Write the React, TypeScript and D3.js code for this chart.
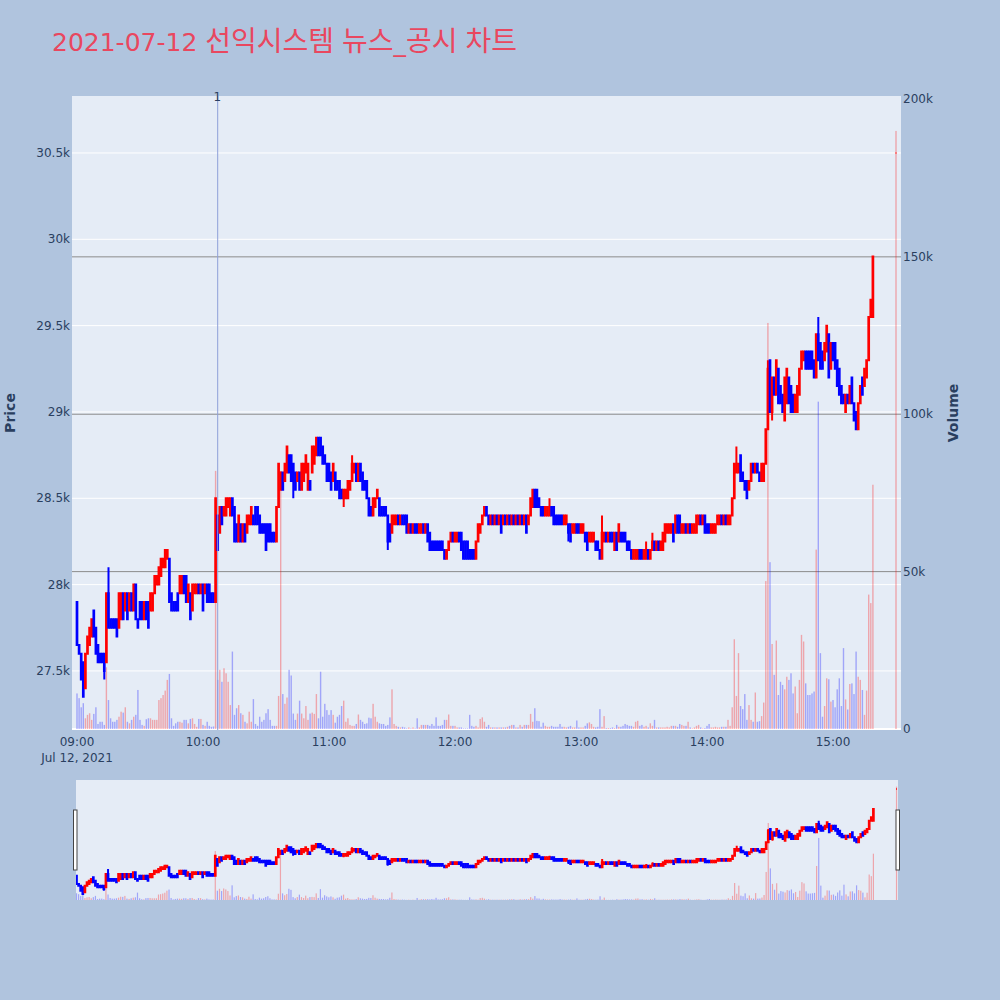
import React from 'react';
import * as d3 from 'd3';

// ---------------- data ----------------
const TITLE = '2021-07-12 선익시스템 뉴스_공시 차트';
const SESSION_START = '2021-07-12T09:00:00';

// one-minute candles from 09:00
const opens = [
  27900,27650,27600,27550,27400,27600,27650,27700,27850,27750,
  27650,27600,27600,27600,27550,27950,27800,27800,27800,27800,
  27750,27800,27950,27850,27950,27850,27950,27850,28000,27800,
  27900,27900,27800,27900,27900,27850,27850,27950,28000,28000,
  28050,28100,28100,28150,28150,27950,27900,27900,27950,27950,
  27950,28050,28050,27900,27950,27850,27950,27950,28000,27950,
  28000,27950,28000,28000,27950,27950,27900,28400,28300,28450,
  28400,28400,28450,28400,28500,28450,28350,28250,28350,28250,
  28350,28300,28350,28350,28400,28450,28450,28400,28350,28350,
  28350,28350,28350,28300,28300,28250,28450,28550,28650,28600,
  28650,28750,28750,28700,28650,28600,28650,28550,28600,28650,
  28550,28600,28650,28700,28750,28850,28850,28800,28750,28700,
  28700,28650,28600,28650,28600,28600,28550,28500,28500,28500,
  28550,28600,28650,28700,28600,28700,28650,28600,28600,28500,
  28450,28400,28450,28500,28500,28450,28450,28450,28400,28350,
  28300,28350,28350,28400,28350,28400,28400,28400,28300,28350,
  28300,28350,28350,28300,28300,28350,28300,28350,28300,28250,
  28250,28250,28250,28250,28250,28200,28150,28200,28250,28300,
  28250,28250,28300,28300,28250,28250,28250,28200,28200,28200,
  28150,28250,28300,28350,28400,28450,28400,28350,28400,28350,
  28400,28350,28400,28350,28400,28350,28400,28350,28400,28350,
  28400,28350,28400,28350,28400,28350,28400,28450,28550,28550,
  28500,28450,28450,28400,28400,28400,28450,28450,28400,28400,
  28400,28400,28350,28350,28350,28350,28300,28300,28350,28350,
  28300,28300,28300,28300,28250,28250,28250,28250,28250,28200,
  28150,28250,28300,28250,28300,28300,28200,28300,28250,28300,
  28300,28300,28250,28250,28200,28150,28150,28150,28200,28200,
  28150,28150,28200,28150,28200,28250,28200,28250,28200,28200,
  28250,28300,28300,28300,28350,28300,28400,28400,28300,28300,
  28350,28300,28350,28300,28300,28300,28350,28400,28350,28400,
  28350,28350,28300,28300,28300,28350,28350,28400,28350,28400,
  28350,28350,28400,28500,28650,28650,28750,28650,28600,28600,
  28550,28600,28700,28650,28700,28650,28600,28600,28700,28900,
  29300,29000,29200,29100,29250,29150,29100,28950,29050,29200,
  29150,29100,29000,29000,29100,29250,29300,29350,29350,29350,
  29350,29300,29200,29450,29400,29350,29300,29350,29450,29250,
  29400,29400,29300,29250,29150,29100,29000,29100,29050,29200,
  29050,29000,28900,29050,29200,29150,29200,29300,29550,29550,
];
const closes = [
  27650,27600,27450,27350,27600,27700,27750,27800,27700,27600,
  27550,27550,27550,27500,27950,27750,27750,27750,27750,27700,
  27950,27950,27800,27950,27800,27950,27850,28000,27800,27750,
  27800,27800,27900,27800,27750,27950,27950,28050,28050,28100,
  28150,28150,28200,28200,27900,27850,27850,27850,27850,28050,
  28050,27950,27900,28000,27800,28000,28000,28000,27950,28000,
  27850,28000,27900,27900,27900,27900,28500,28200,28450,28350,
  28450,28500,28500,28500,28400,28250,28250,28400,28250,28350,
  28250,28400,28400,28450,28350,28350,28350,28300,28300,28300,
  28200,28250,28250,28250,28250,28450,28700,28650,28550,28700,
  28800,28650,28600,28600,28550,28650,28550,28700,28700,28750,
  28700,28550,28800,28800,28850,28750,28750,28700,28700,28600,
  28600,28550,28700,28550,28550,28500,28500,28550,28550,28600,
  28600,28700,28700,28600,28700,28600,28550,28550,28500,28400,
  28400,28500,28500,28550,28400,28400,28400,28400,28250,28250,
  28400,28400,28400,28350,28400,28350,28350,28300,28350,28300,
  28350,28300,28300,28350,28350,28300,28350,28250,28200,28200,
  28200,28200,28200,28200,28200,28150,28200,28250,28300,28250,
  28300,28300,28250,28200,28150,28150,28150,28150,28150,28150,
  28250,28350,28350,28400,28450,28400,28350,28400,28350,28400,
  28350,28400,28300,28400,28350,28400,28350,28400,28350,28400,
  28350,28400,28350,28400,28300,28400,28500,28550,28450,28450,
  28450,28400,28400,28450,28450,28450,28400,28350,28350,28350,
  28350,28350,28400,28400,28300,28250,28350,28350,28300,28300,
  28350,28350,28250,28200,28300,28300,28300,28200,28200,28150,
  28300,28300,28250,28300,28250,28250,28300,28200,28350,28250,
  28250,28250,28200,28200,28150,28200,28200,28200,28150,28150,
  28200,28200,28150,28200,28250,28200,28250,28200,28250,28300,
  28350,28350,28350,28350,28250,28400,28300,28300,28350,28350,
  28300,28350,28300,28350,28350,28400,28400,28350,28400,28300,
  28300,28300,28350,28350,28350,28400,28400,28350,28400,28350,
  28400,28400,28500,28700,28700,28700,28600,28600,28550,28500,
  28600,28700,28650,28700,28650,28600,28700,28700,28900,29250,
  29000,29200,29100,29300,29050,29050,29000,29200,29250,29050,
  29000,29000,29100,29150,29250,29350,29350,29250,29250,29250,
  29250,29200,29450,29300,29250,29250,29400,29500,29200,29400,
  29300,29250,29150,29100,29050,29050,29100,29050,29150,29050,
  28950,28900,29050,29150,29100,29250,29300,29550,29650,29900,
];
const volumes = [
  11300,9800,6900,8200,3400,4500,5000,2900,4800,6900,
  1600,2300,2300,1300,19600,9200,3400,2300,2300,2900,
  3900,5500,5200,6900,2300,1800,2900,3900,4500,12400,
  2900,1300,1000,3100,3400,3400,2900,2900,2900,9200,
  9800,10800,12200,15600,17500,3400,1000,1800,2300,2300,
  2000,2900,2900,1800,3200,3400,1600,700,3200,3200,
  1300,1000,2300,1000,700,800,82000,15600,18800,15000,
  19300,17700,15000,7600,24600,4500,6600,7600,5000,4500,
  2300,1800,5500,2300,9500,1600,1000,3900,2300,2900,
  5000,6300,2900,1000,1000,1000,10500,82000,11100,8000,
  10000,18800,17000,4900,2900,4900,9000,4900,3400,7300,
  2900,4900,5200,4800,11100,3400,18200,3900,8000,6000,
  4500,6000,4500,2000,3900,4500,7300,9000,2300,3400,
  1300,1000,1000,1600,4600,2900,2300,1600,1800,3600,
  3400,8000,3900,2300,1800,1600,1600,1000,1300,3700,
  12600,1600,1000,700,500,700,500,200,500,200,
  500,200,3400,500,1300,1300,1300,1300,1000,1600,
  1000,3700,1000,1000,1300,2900,2900,4600,1000,1000,
  1000,500,500,500,200,200,200,4500,1000,700,
  1000,500,3200,3700,2300,700,1300,500,500,500,
  500,500,500,500,500,700,1000,1300,1300,500,
  500,1300,700,1300,1300,1300,4800,2300,6600,2600,
  2500,700,2000,1000,700,700,1000,700,700,700,
  1600,700,700,500,700,1000,500,500,2700,500,
  500,500,1000,1800,2100,1600,700,500,700,6300,
  700,4100,300,300,300,500,300,1300,700,700,
  1000,1600,1300,1000,1000,700,2300,2600,1000,1300,
  700,1000,500,1800,1000,2900,500,500,500,500,
  500,700,500,1000,1000,1000,700,1600,1300,1000,
  1000,2300,500,200,500,1000,1300,500,200,300,
  1000,1600,500,500,700,500,500,700,700,700,
  2900,1000,6900,28500,10500,24100,7300,6300,11100,2900,
  7600,2900,2300,11600,2300,2500,4100,8400,47000,129000,
  53000,27000,17200,28100,10800,15000,14000,12600,16600,15600,
  17700,11300,13500,5000,15600,29900,27800,14500,10800,10800,
  11300,11900,57000,104000,24100,3900,7300,16100,15800,8700,
  9200,6900,12600,16100,7300,25700,9400,6200,14300,14500,
  11100,24600,16600,15600,12400,4500,12200,42700,40000,77600,
];
// wicks beyond the body: [minute index, price]
const wickHighs = [[8, 27850], [15, 28100], [131, 28750], [225, 28500], [250, 28400], [271, 28250], [274, 28300], [314, 28800], [329, 29300], [353, 29550]];
const wickLows = [[13, 27450], [103, 28500], [127, 28450], [148, 28200], [234, 28250], [299, 28300], [331, 28950]];
// closing auction print
const closingAuction = { time: '2021-07-12T15:30:00', open: 30500, close: 30500, volume: 190000 };
const newsEvents = [{ time: '2021-07-12T10:07:00', label: '1' }];

const priceTicks = [27500, 28000, 28500, 29000, 29500, 30000, 30500];
const volumeTicks = [0, 50000, 100000, 150000, 200000];
const timeTicks = ['09:00', '10:00', '11:00', '12:00', '13:00', '14:00', '15:00'];

// ---------------- layout ----------------
const W = 1000, H = 1000;
const P = { left: 72, right: 901, top: 96, bottom: 730 };
const S = { left: 76, right: 898, top: 780, bottom: 900 };
const INC = '#ff0000', DEC = '#0000ff';
const FONT = "'DejaVu Sans', Verdana, 'Noto Sans CJK KR', sans-serif";
const AXIS_TXT = '#2a3f5f';

const parse = d3.timeParse('%Y-%m-%dT%H:%M:%S');
const t0 = parse(SESSION_START) as Date;
const minute = 60000;

type Candle = { t: Date; o: number; c: number; h: number; l: number; v: number };
const candles: Candle[] = opens.map((o, i) => {
  const c = closes[i];
  let h = Math.max(o, c), l = Math.min(o, c);
  wickHighs.forEach(([k, p]) => { if (k === i) h = Math.max(h, p); });
  wickLows.forEach(([k, p]) => { if (k === i) l = Math.min(l, p); });
  return { t: d3.timeMinute.offset(t0, i), o, c, h, l, v: volumes[i] };
});
const auctionT = parse(closingAuction.time) as Date;
candles.push({ t: auctionT, o: closingAuction.open, c: closingAuction.close, h: closingAuction.close, l: closingAuction.close, v: closingAuction.volume });

const x = d3.scaleTime()
  .domain([new Date(t0.getTime() - 2.38 * minute), new Date(t0.getTime() + 392.38 * minute)])
  .range([P.left, P.right]);
const yP = d3.scaleLinear().domain([27158, 30830]).range([P.bottom, P.top]);
const yV = d3.scaleLinear().domain([0, 201100]).range([P.bottom - 1, P.top]);

const xs = d3.scaleTime()
  .domain([new Date(t0.getTime() - 0.24 * minute), new Date(t0.getTime() + 390.7 * minute)])
  .range([S.left, S.right]);
const ysP = d3.scaleLinear().domain([27170, 30770]).range([S.bottom, S.top]);
const ysV = d3.scaleLinear().domain([0, 201100]).range([S.bottom, S.top]);

const fmtK = d3.format('~s');
const fmtT = d3.timeFormat('%H:%M');
const parseHM = d3.timeParse('%Y-%m-%dT%H:%M');

function candlePath(d: Candle, xx: (t: Date) => number, yy: (p: number) => number, hw: number) {
  const cx = xx(d.t);
  const top = Math.max(d.o, d.c), bot = Math.min(d.o, d.c);
  return `M${cx - hw},${yy(top)}H${cx + hw}V${yy(bot)}H${cx - hw}Z` +
    `M${cx},${yy(d.h)}V${yy(top)}M${cx},${yy(d.l)}V${yy(bot)}`;
}
const isUp = (d: Candle) => d.c >= d.o;

function Series({ xx, yy, yv, bottom, barW }: { xx: any; yy: any; yv: any; bottom: number; barW: number }) {
  return (
    <g>
      {candles.map((d, i) => (
        <rect key={'v' + i} x={xx(d.t) - barW / 2} width={barW} y={yv(d.v)} height={Math.max(0, bottom - yv(d.v))}
          fill={isUp(d) ? INC : DEC} fillOpacity={0.3} />
      ))}
      {candles.map((d, i) => (
        <path key={'c' + i} d={candlePath(d, xx, yy, 0.35)} fill={isUp(d) ? INC : DEC}
          stroke={isUp(d) ? INC : DEC} strokeWidth={2} />
      ))}
    </g>
  );
}

// title runs: Latin in the axis font, Hangul in the CJK font
const titleRuns = TITLE.split(/([\uAC00-\uD7A3]+)/).filter(s => s.length > 0);

export default function App() {
  return (
    <svg width={W} height={H} style={{ position: 'absolute', left: 0, top: 0 }} fontFamily={FONT}>
      <defs>
        <clipPath id="plotClip"><rect x={P.left} y={P.top} width={P.right - P.left} height={P.bottom - P.top} /></clipPath>
        <clipPath id="sliderClip"><rect x={S.left} y={S.top} width={S.right - S.left} height={S.bottom - S.top} /></clipPath>
      </defs>
      <rect width={W} height={H} fill="#b0c4de" />
      <text x={52} y={51} fill="#e9475f">
        {titleRuns.map((r, i) => /[\uAC00-\uD7A3]/.test(r)
          ? <tspan key={i} fontSize={28} fontFamily="'Noto Sans CJK KR', sans-serif">{r}</tspan>
          : <tspan key={i} fontSize={25}>{r}</tspan>)}
      </text>

      {/* main plot */}
      <rect x={P.left} y={P.top} width={P.right - P.left} height={P.bottom - P.top} fill="#e5ecf6" />
      {priceTicks.map(p => (
        <line key={'gp' + p} x1={P.left} x2={P.right} y1={yP(p)} y2={yP(p)} stroke="#fff" strokeWidth={1} />
      ))}
      {volumeTicks.filter(v => v > 0 && v < 200000).map(v => (
        <line key={'gv' + v} x1={P.left} x2={P.right} y1={yV(v)} y2={yV(v)} stroke="#8c8c8c" strokeWidth={1} />
      ))}
      <line x1={P.left} x2={P.right} y1={yV(0)} y2={yV(0)} stroke="#fff" strokeWidth={2} />
      <g clipPath="url(#plotClip)">
        <Series xx={x} yy={yP} yv={yV} bottom={yV(0)} barW={1.4} />
        {newsEvents.map(n => {
          const t = parse(n.time) as Date;
          return <line key={n.label} x1={x(t)} x2={x(t)} y1={P.top} y2={P.bottom} stroke="#8e9fd8" strokeWidth={1} />;
        })}
      </g>
      {newsEvents.map(n => {
        const t = parse(n.time) as Date;
        return <text key={'l' + n.label} x={x(t) - 0.5} y={101} fontSize={12} fill={AXIS_TXT} textAnchor="middle">{n.label}</text>;
      })}

      {/* axes labels */}
      {priceTicks.map(p => (
        <text key={'tp' + p} x={70} y={yP(p) + 4} fontSize={12} fill={AXIS_TXT} textAnchor="end">{fmtK(p)}</text>
      ))}
      {volumeTicks.map(v => (
        <text key={'tv' + v} x={903} y={yV(v) + 4} fontSize={12} fill={AXIS_TXT} textAnchor="start">{fmtK(v)}</text>
      ))}
      {timeTicks.map(s => {
        const t = parseHM('2021-07-12T' + s) as Date;
        return <text key={s} x={x(t)} y={746} fontSize={12} fill={AXIS_TXT} textAnchor="middle">{fmtT(t)}</text>;
      })}
      <text x={x(t0)} y={762} fontSize={12} fill={AXIS_TXT} textAnchor="middle">{d3.timeFormat('%b %-d, %Y')(t0)}</text>
      <text transform="translate(14.5,413) rotate(-90)" fontSize={14} fontWeight="bold" fill={AXIS_TXT} textAnchor="middle">Price</text>
      <text transform="translate(958,413) rotate(-90)" fontSize={14} fontWeight="bold" fill={AXIS_TXT} textAnchor="middle">Volume</text>

      {/* range slider */}
      <rect x={S.left} y={S.top} width={S.right - S.left} height={S.bottom - S.top} fill="#e5ecf6" />
      <g clipPath="url(#sliderClip)">
        <Series xx={xs} yy={ysP} yv={ysV} bottom={S.bottom} barW={1.2} />
      </g>
      <rect x={73.5} y={810} width={3.5} height={60} fill="#fff" stroke="#444" strokeWidth={1} />
      <rect x={896} y={810} width={3.5} height={60} fill="#fff" stroke="#444" strokeWidth={1} />
    </svg>
  );
}
